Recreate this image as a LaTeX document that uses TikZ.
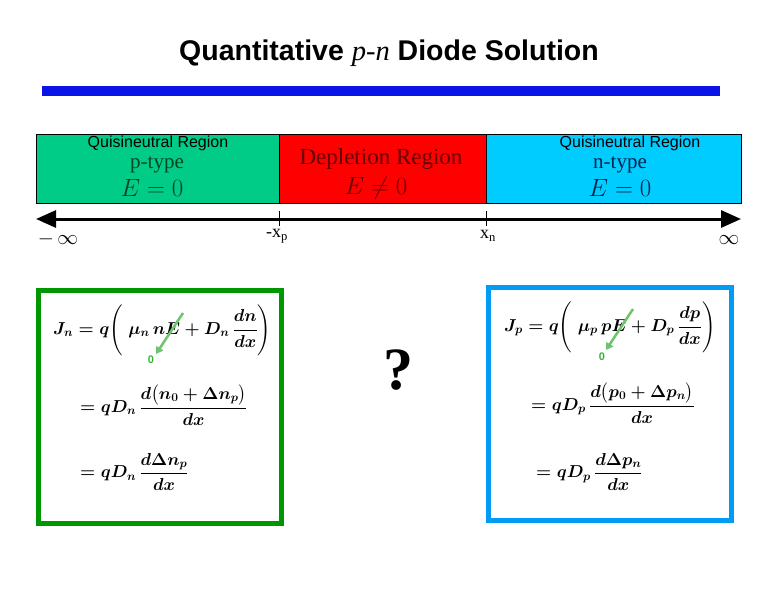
\documentclass[tikz,border=0pt]{standalone}
\usepackage{amsmath,amssymb}
\usepackage{fontspec}
\setmainfont{Liberation Serif}
\setsansfont{Liberation Sans}
\newfontfamily\titlefont{Liberation Sans}
\usetikzlibrary{arrows.meta}
\definecolor{regGreen}{RGB}{0,204,136}
\definecolor{regRed}{RGB}{255,0,0}
\definecolor{regCyan}{RGB}{0,204,255}
\definecolor{barBlue}{RGB}{10,20,230}
\definecolor{boxGreen}{RGB}{0,150,0}
\definecolor{boxBlue}{RGB}{0,155,245}
\definecolor{arrGreen}{RGB}{110,195,110}
\definecolor{zeroGreen}{RGB}{50,180,50}
\definecolor{txtGreen}{RGB}{0,70,35}
\definecolor{txtRed}{RGB}{100,0,0}
\definecolor{txtBlue}{RGB}{0,35,75}
\tikzset{
  region/.style={draw=black, line width=0.8pt, minimum height=69pt, inner sep=0pt},
  qlabel/.style={font=\sffamily\fontsize{16}{17}\selectfont, inner sep=0pt},
  tlabel/.style={font=\fontsize{23}{24}\selectfont, inner sep=0pt},
  elabel/.style={font=\fontsize{25}{26}\selectfont, inner sep=0pt},
  axlabel/.style={font=\fontsize{18}{20}\selectfont, inner sep=0pt},
  eqbox/.style={line width=5pt, minimum width=243pt, minimum height=233pt, inner sep=0pt},
  eq/.style={font=\fontsize{17}{20}\selectfont\boldmath, inner sep=0pt},
  zeroarrow/.style={draw=arrGreen, line width=2.5pt, -{Triangle[length=7pt,width=8pt]}},
  zero/.style={font=\sffamily\bfseries\fontsize{11}{12}\selectfont, text=zeroGreen, inner sep=0pt}
}
\begin{document}
\begin{tikzpicture}[x=1pt,y=-1pt]
\useasboundingbox (0,0) rectangle (762,600);
% title
\node[inner sep=0pt] (title) at (389,53) {\titlefont\bfseries\fontsize{28.5}{31}\selectfont Quantitative \textit{\rmfamily\mdseries p-n} Diode Solution};
\fill[barBlue] (42,86) rectangle (720,96);
% regions
\node[region, fill=regGreen, minimum width=243pt, anchor=north west] (pReg) at (36,133.5) {};
\node[region, fill=regRed, minimum width=207pt, anchor=north west] (dReg) at (279,133.5) {};
\node[region, fill=regCyan, minimum width=255pt, anchor=north west] (nReg) at (486,133.5) {};
\node[qlabel] (q1) at (158,143) {Quisineutral Region};
\node[tlabel, font=\fontsize{21}{22}\selectfont, text=txtGreen] (pt) at (157,165) {p-type};
\node[elabel, text=txtGreen] (e1) at (152,188) {$E = 0$};
\node[tlabel, text=txtRed] (dl) at (381,159) {Depletion Region};
\node[elabel, text=txtRed] (e2) at (376,188) {$E \neq 0$};
\node[qlabel] (q2) at (630,143) {Quisineutral Region};
\node[tlabel, font=\fontsize{21}{22}\selectfont, text=txtBlue] (nt) at (620,165) {n-type};
\node[elabel, text=txtBlue] (e3) at (620,188) {$E = 0$};
% axis
\coordinate (axL) at (36,219);
\coordinate (axR) at (741,219);
\draw[line width=3pt, {Triangle[length=20pt,width=17pt]}-{Triangle[length=20pt,width=17pt]}] (axL) -- (axR);
\coordinate (t1a) at (279,211); \coordinate (t1b) at (279,226);
\coordinate (t2a) at (486,211); \coordinate (t2b) at (486,226);
\draw[line width=0.8pt] (t1a) -- (t1b);
\draw[line width=0.8pt] (t2a) -- (t2b);
\node[axlabel, font=\fontsize{21}{22}\selectfont] (minf) at (58,239) {$-\,\infty$};
\node[axlabel] (mxp) at (277,236) {-x\textsubscript{p}};
\node[axlabel] (xn) at (488,236) {x\textsubscript{n}};
\node[axlabel, font=\fontsize{21}{22}\selectfont] (pinf) at (729,240) {$\infty$};
% left box
\node[eqbox, draw=boxGreen] (lbox) at (160,407) {};
\node[eq, anchor=west] (l1) at (53,330) {$J_n = q\Biggl(\;\mu_n\, nE + D_n\,\dfrac{dn}{dx}\Biggr)$};
\node[eq, anchor=west] (l2) at (80,405) {$= qD_n\,\dfrac{d\bigl(n_0 + \Delta n_p\bigr)}{dx}$};
\node[eq, anchor=west] (l3) at (80,472) {$= qD_n\,\dfrac{d\Delta n_p}{dx}$};
\coordinate (la1) at (183,313);
\coordinate (la2) at (156,354);
\draw[zeroarrow] (la1) -- (la2);
\node[zero] (lz) at (151,360) {0};
% question mark
\node[font=\bfseries\fontsize{60}{60}\selectfont, inner sep=0pt] (qm) at (398,370) {?};
% right box
\node[eqbox, draw=boxBlue] (rbox) at (610,404) {};
\node[eq, anchor=west] (r1) at (504,327) {$J_p = q\Biggl(\;\mu_p\, pE + D_p\,\dfrac{dp}{dx}\Biggr)$};
\node[eq, anchor=west] (r2) at (531,403) {$= qD_p\,\dfrac{d\bigl(p_0 + \Delta p_n\bigr)}{dx}$};
\node[eq, anchor=west] (r3) at (536,472) {$= qD_p\,\dfrac{d\Delta p_n}{dx}$};
\coordinate (ra1) at (633,309);
\coordinate (ra2) at (606,350);
\draw[zeroarrow] (ra1) -- (ra2);
\node[zero] (rz) at (602,357) {0};
\end{tikzpicture}
\end{document}
